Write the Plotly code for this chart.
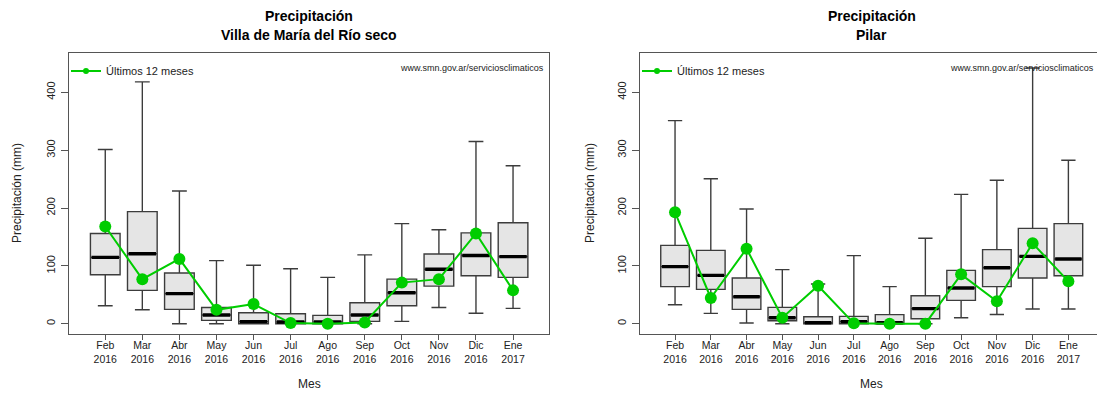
import plotly.graph_objects as go

# Monthly precipitation (mm): historical box statistics and the last 12 months
months = ["Feb", "Mar", "Abr", "May", "Jun", "Jul", "Ago", "Sep", "Oct", "Nov", "Dic", "Ene"]
years = ["2016"] * 11 + ["2017"]
y_ticks = [0, 100, 200, 300, 400]

# Villa de María del Río seco
villa_low = [31, 24, 0, 0, 0, 0, 0, 0, 4, 28, 18, 26.5]
villa_q1 = [84.7, 57.6, 24.8, 5.8, 0, 0, 0, 4, 31, 65, 83, 80]
villa_med = [114.7, 121, 51.9, 15, 3.5, 3, 3, 15, 53.6, 94, 118, 116]
villa_q3 = [156, 193.7, 87.6, 28, 19, 17.3, 14.4, 36.3, 77, 120.5, 157, 174.6]
villa_high = [301, 418, 229.4, 109, 101, 95, 80, 119, 173, 162.5, 315, 273]
villa_last = [168, 77, 112, 24, 34, 1, 0, 2, 71, 77, 156, 57.6]

# Pilar
pilar_low = [32.8, 17.9, 1.2, 0, 0, 0, 0, 0, 10.4, 16, 25.4, 25.4]
pilar_q1 = [64, 59.4, 24.8, 5.2, 0, 0, 0, 8.6, 40.3, 64, 79, 83]
pilar_med = [98.6, 83.6, 46.7, 10.4, 1.7, 3.5, 1.7, 26, 61.7, 96.8, 116.4, 111.8]
pilar_q3 = [135.4, 126.8, 79, 28.2, 12, 12.7, 15.6, 48.4, 92.2, 128, 164.8, 172.9]
pilar_high = [351, 250.6, 198.3, 93.4, 68.6, 117.6, 64, 147.6, 223.6, 248, 442, 282.6]
pilar_last = [192.5, 44.4, 129.7, 10.4, 65.7, 0.6, 0, 0, 85.3, 38.6, 139, 73.2]

W, H = 1097, 394
FONT = "Liberation Sans, Arial, sans-serif"
GREEN = "#00CD00"
BOX_W = 0.8
LEGEND_NAME = "Últimos 12 meses"

pos = list(range(1, len(months) + 1))
ticktext = [f"{m}<br>{y}" for m, y in zip(months, years)]


def px_x(p):
    return p / W


def px_y(p):
    return 1 - p / H


fig = go.Figure()

panels = [
    dict(xa="x", ya="y", legend="legend", low=villa_low, q1=villa_q1, med=villa_med,
         q3=villa_q3, high=villa_high, last=villa_last),
    dict(xa="x2", ya="y2", legend="legend2", low=pilar_low, q1=pilar_q1, med=pilar_med,
         q3=pilar_q3, high=pilar_high, last=pilar_last),
]

for p in panels:
    fig.add_trace(go.Box(
        x=pos, q1=p["q1"], median=p["med"], q3=p["q3"],
        lowerfence=p["low"], upperfence=p["high"],
        width=BOX_W, whiskerwidth=0.5, boxpoints=False,
        fillcolor="#E5E5E5", line=dict(color="#3c3c3c", width=1.4),
        xaxis=p["xa"], yaxis=p["ya"], showlegend=False, hoverinfo="skip",
    ))
    # thick median bars
    mx, my = [], []
    for xi, m in zip(pos, p["med"]):
        mx += [xi - BOX_W / 2 + 0.03, xi + BOX_W / 2 - 0.03, None]
        my += [m, m, None]
    fig.add_trace(go.Scatter(
        x=mx, y=my, mode="lines", line=dict(color="black", width=3.4),
        xaxis=p["xa"], yaxis=p["ya"], showlegend=False, hoverinfo="skip",
    ))
    fig.add_trace(go.Scatter(
        x=pos, y=p["last"], mode="lines+markers", name=LEGEND_NAME,
        line=dict(color=GREEN, width=2), marker=dict(color=GREEN, size=12),
        xaxis=p["xa"], yaxis=p["ya"], showlegend=False,
    ))
    # legend key with a small dot, as in the printed legend
    fig.add_trace(go.Scatter(
        x=[None], y=[None], mode="lines+markers", name=LEGEND_NAME,
        line=dict(color=GREEN, width=2), marker=dict(color=GREEN, size=6),
        xaxis=p["xa"], yaxis=p["ya"], legend=p["legend"],
    ))

# plot-box geometry (pixels)
top_px, bot_px = 52.5, 333.7
y_dom = [px_y(bot_px), px_y(top_px)]
y_rng = [-17.3, 468.8]

axis_common = dict(showgrid=False, zeroline=False, showline=True, linecolor="#555555",
                   linewidth=1.2, ticks="outside", tickcolor="#555555", tickwidth=1.2)

xaxis_common = dict(axis_common, tickvals=pos, ticktext=ticktext, ticklen=5, mirror=True,
                    tickfont=dict(family=FONT, size=10.5, color="#222222"),
                    ticklabelstandoff=-3)
yaxis_common = dict(axis_common, tickvals=y_ticks, tickangle=-90, ticklen=7, range=y_rng,
                    domain=y_dom, ticklabelstandoff=2,
                    tickfont=dict(family=FONT, size=11, color="#222222"))

legend_common = dict(xanchor="left", yanchor="middle", bgcolor="rgba(0,0,0,0)",
                     font=dict(family=FONT, size=11, color="#222222"))

fig.update_layout(
    width=W, height=H, margin=dict(l=0, r=0, t=0, b=0),
    paper_bgcolor="white", plot_bgcolor="white",
    font=dict(family=FONT, color="#222222"),
    xaxis=dict(xaxis_common, domain=[px_x(69.3), px_x(549)], range=[0.03, 12.97], anchor="y"),
    yaxis=dict(yaxis_common, mirror=True, anchor="x"),
    xaxis2=dict(xaxis_common, domain=[px_x(640), 1.0], range=[0.02, 12.80], anchor="y2"),
    yaxis2=dict(yaxis_common, mirror=False, anchor="x2"),
    legend=dict(legend_common, x=px_x(66), y=px_y(71)),
    legend2=dict(legend_common, x=px_x(637), y=px_y(71)),
)

annotations = []


def note(x, y, text, size, color="#222222", xanchor="center", angle=0):
    annotations.append(dict(x=px_x(x), y=px_y(y), text=text, xref="paper", yref="paper",
                            xanchor=xanchor, yanchor="middle", textangle=angle,
                            showarrow=False, font=dict(family=FONT, size=size, color=color)))


for cx, name, wx, ylab_x in [(309, "Villa de María del Río seco", 546, 17),
                             (871.5, "Pilar", 1096, 590)]:
    note(cx, 16, "<b>Precipitación</b>", 14, "black")
    note(cx, 35, f"<b>{name}</b>", 14, "black")
    note(cx, 384, "Mes", 12)
    note(ylab_x, 193, "Precipitación (mm)", 12, angle=-90)
    note(wx, 68, "www.smn.gov.ar/serviciosclimaticos", 9, xanchor="right")
fig.update_layout(annotations=annotations)

fig.write_html("out.html")
